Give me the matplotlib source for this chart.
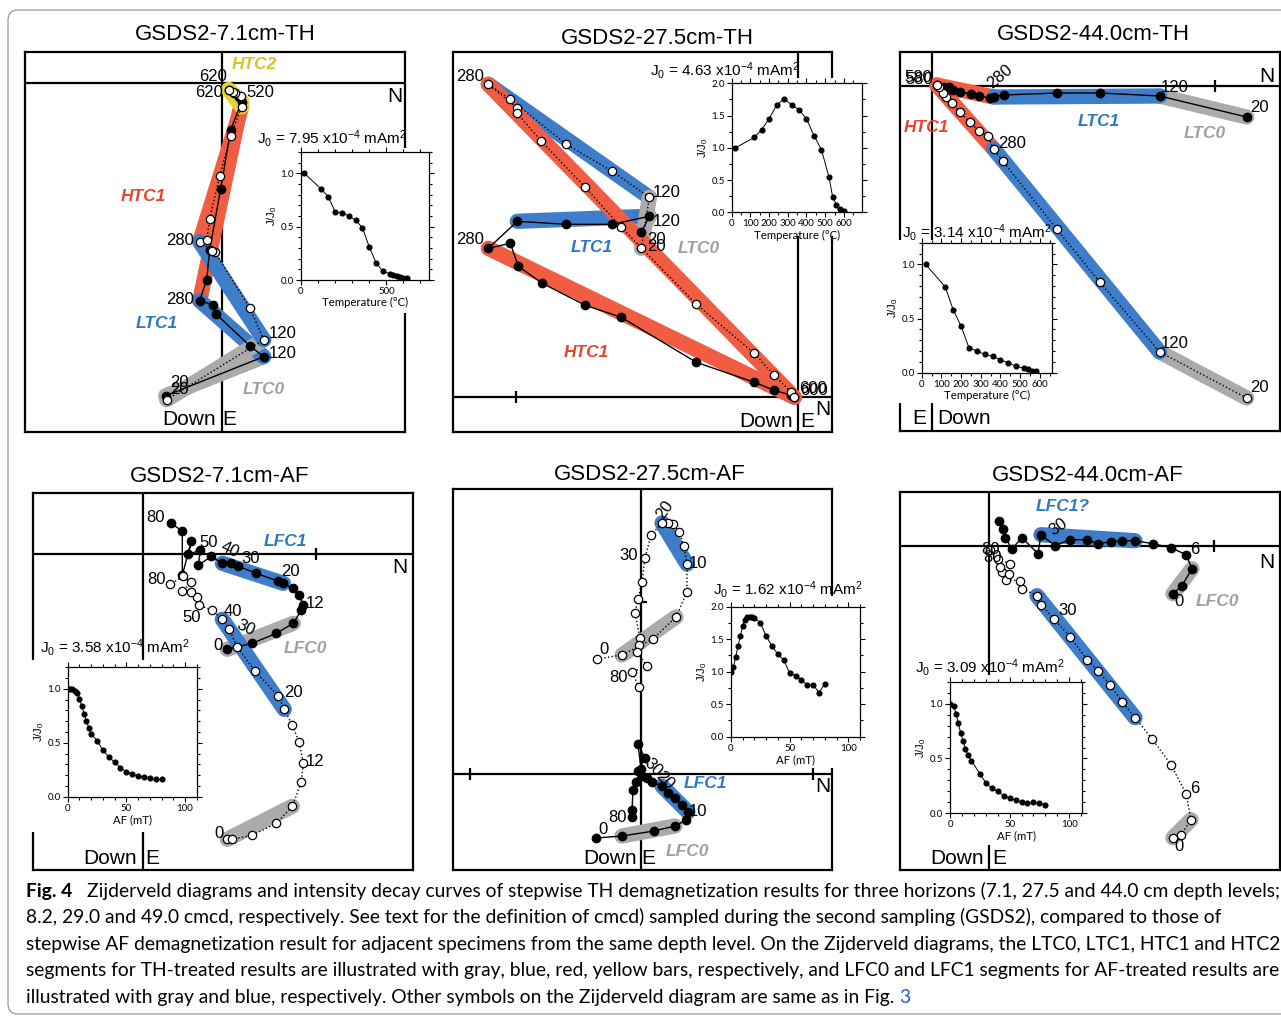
import matplotlib
matplotlib.use("Agg")
import matplotlib.pyplot as plt
from matplotlib.patches import Rectangle, FancyBboxPatch
from matplotlib.ticker import MultipleLocator, FixedLocator, FormatStrFormatter
from matplotlib.transforms import IdentityTransform

plt.rcParams['font.family'] = ['Liberation Sans', 'DejaVu Sans']
plt.rcParams['mathtext.fontset'] = 'custom'
plt.rcParams['mathtext.rm'] = 'Liberation Sans'
plt.rcParams['mathtext.it'] = 'Liberation Sans:italic'
plt.rcParams['mathtext.bf'] = 'Liberation Sans:bold'

# ---------------- data (vector end points, arbitrary units; N to the right, Down/E downwards)
# GSDS2-7.1cm-TH
th71_h = [(-56, 313), (42, 274), (28, 263), (-6, 231), (-9, 222), (-22, 218), (-15, 197),
          (-12, 167), (-1, 106), (9, 47), (20, 19), (17, 14), (12, 10), (7, 7)]
th71_v = [(-55, 317), (42, 257), (28, 225), (-7, 169), (-10, 168), (-22, 159), (-15, 157),
          (-12, 136), (-2, 93), (9, 53), (20, 24), (19, 13), (13, 10), (11, 9), (7, 7)]
th71_segs = [("LTC0", "h", 0, 1), ("HTC1", "h", 5, 10), ("LTC1", "h", 1, 5), ("HTC2", "h", 10, 13),
             ("LTC0", "v", 0, 1), ("HTC1", "v", 5, 10), ("LTC1", "v", 1, 5), ("HTC2", "v", 10, 14)]
th71_steps = [("620", -9, -6), ("620", -13, 10), ("520", 39, 10), ("280", -42, 158),
              ("280", -42, 217), ("120", 61, 251), ("120", 61, 271), ("20", -42, 300), ("20", -42, 307)]
th71_comps = [("HTC2", 33, -18), ("HTC1", -78, 114), ("LTC1", -65, 241), ("LTC0", 42, 307)]

# GSDS2-27.5cm-TH
th275_h = [(-157, -165), (-149, -181), (-186, -173), (-232, -173), (-281, -176), (-310, -149),
           (-288, -154), (-280, -131), (-256, -114), (-213, -92), (-177, -80), (-102, -35),
           (-44, -15), (-24, -7), (-7, -2), (-4, 0)]
th275_v = [(-157, -149), (-149, -200), (-186, -226), (-232, -253), (-288, -298), (-310, -313),
           (-281, -289), (-281, -284), (-257, -256), (-213, -210), (-177, -170), (-102, -93),
           (-44, -44), (-24, -22), (-7, -5), (-4, 0)]
th275_segs = [("LTC1", "h", 1, 4), ("HTC1", "h", 5, 15), ("LTC0", "h", 0, 1),
              ("LTC1", "v", 1, 5), ("LTC0", "v", 0, 1), ("HTC1", "v", 5, 15)]
th275_steps = [("280", -328, -321), ("280", -328, -158), ("120", -132, -205), ("120", -132, -176),
               ("20", -142, -158), ("20", -142, -151), ("600", 15, -9), ("600", 16, -7)]
th275_comps = [("LTC1", -207, -150), ("LTC0", -100, -149), ("HTC1", -212, -45)]

# GSDS2-44.0cm-TH
th440_h = [(315, 31), (228, 10), (168, 7), (125, 7), (72, 9), (62, 11), (58, 12), (47, 10),
           (39, 8), (28, 6), (21, 4), (17, 1), (12, 1), (5, -1)]
th440_v = [(315, 312), (228, 266), (168, 196), (125, 143), (71, 75), (62, 63), (56, 50), (47, 45),
           (38, 36), (28, 26), (20, 17), (14, 11), (11, 7), (7, 1), (5, -1)]
th440_segs = [("LTC0", "h", 0, 1), ("HTC1", "h", 5, 13), ("LTC1", "h", 1, 5),
              ("LTC0", "v", 0, 1), ("HTC1", "v", 5, 14), ("LTC1", "v", 1, 5)]
th440_steps = [("580", -13, -8), ("580", -12, -7), ("280", 68, -9, 40), ("280", 80, 58),
               ("120", 243, 1), ("20", 328, 21), ("120", 243, 257), ("20", 328, 301)]
th440_comps = [("HTC1", -5, 41), ("LTC1", 167, 35), ("LTC0", 273, 48)]

# GSDS2-7.1cm-AF
af71_h = [(84, 95), (109, 89), (133, 79), (150, 69), (158, 56), (160, 51), (156, 41), (150, 34),
          (140, 29), (135, 27), (113, 19), (95, 12), (88, 9), (79, 9), (68, 2), (55, 11), (57, -4),
          (45, 0), (48, -13), (39, 21), (39, -23), (28, -31)]
af71_v = [(84, 285), (89, 285), (109, 281), (133, 269), (149, 252), (158, 228), (160, 209),
          (156, 188), (149, 171), (141, 155), (135, 142), (112, 117), (94, 93), (86, 75), (79, 65),
          (69, 56), (56, 51), (54, 43), (48, 38), (39, 37), (48, 28), (40, 22), (27, 30)]
af71_segs = [("LFC0", "h", 0, 3), ("LFC1", "h", 8, 13), ("LFC0", "v", 0, 4), ("LFC1", "v", 9, 14)]
af71_steps = [("80", 12, -37), ("50", 65, -12), ("40", 87, -4, -25), ("30", 107, 4), ("20", 147, 17),
              ("12", 172, 49), ("80", 13, 25), ("50", 48, 63), ("40", 90, 57), ("30", 102, 74, -25),
              ("0", 75, 91), ("20", 150, 138), ("12", 172, 207), ("0", 76, 279)]
af71_comps = [("LFC1", 142, -13), ("LFC0", 162, 94)]

# GSDS2-27.5cm-AF
af275_h = [(-45, 64), (-19, 62), (13, 57), (34, 52), (45, 46), (47, 38), (41, 31), (34, 24),
           (27, 19), (21, 12), (11, 8), (6, 4), (1, 2), (-3, -3), (4, -16), (-3, -30), (0, -5),
           (-5, 8), (-8, 16), (-9, 36), (-9, 43)]
af275_v = [(-44, -115), (-19, -119), (12, -135), (35, -157), (46, -182), (46, -210), (43, -228),
           (38, -242), (32, -250), (27, -251), (21, -251), (10, -239), (4, -216), (1, -192),
           (-3, -175), (-6, -161), (-1, -136), (-2, -129), (-4, -122), (6, -108), (-9, -102), (-2, -87)]
af275_segs = [("LFC0", "h", 1, 3), ("LFC1", "h", 5, 9), ("LFC0", "v", 1, 3), ("LFC1", "v", 5, 10)]
af275_steps = [("20", 24, -264, 55), ("10", 57, -211), ("30", -12, -219), ("0", -37, -125),
               ("80", -23, -96), ("30", 12, -7, -45), ("20", 24, 6, -45), ("10", 57, 38),
               ("80", -24, 43), ("0", -38, 56)]
af275_comps = [("LFC1", 64, 9), ("LFC0", 46, 78)]

# GSDS2-44.0cm-AF
af440_h = [(184, 48), (193, 40), (203, 23), (197, 9), (182, 2), (164, -2), (146, -5), (133, -5),
           (122, -4), (109, -2), (98, -6), (81, -6), (66, 0), (52, -11), (49, 8), (33, -8), (23, 3),
           (16, -8), (14, -17), (10, -25)]
af440_v = [(184, 292), (192, 289), (202, 274), (197, 248), (182, 219), (163, 193), (146, 172),
           (133, 156), (121, 139), (109, 125), (98, 114), (81, 91), (65, 73), (52, 59), (48, 50),
           (33, 43), (31, 35), (17, 34), (13, 26), (20, 28), (11, 21), (21, 18), (9, 13), (1, 4)]
af440_segs = [("LFC0", "h", 0, 2), ("LFC1", "h", 6, 13), ("LFC0", "v", 0, 2), ("LFC1", "v", 6, 14)]
af440_steps = [("30", 69, -19, 35), ("6", 206, 4), ("0", 190, 56), ("30", 79, 65), ("6", 206, 243),
               ("0", 190, 301), ("80", 2, 4), ("80", 3, 12)]
af440_comps = [("LFC1?", 74, -39), ("LFC0", 228, 56)]

# intensity decay curves
th71_T = [20, 120, 160, 200, 240, 280, 320, 360, 400, 440, 480, 520, 540, 560, 580, 600, 620]
th71_J = [1.0, 0.85, 0.78, 0.64, 0.63, 0.60, 0.56, 0.49, 0.31, 0.16, 0.08, 0.06, 0.05, 0.04, 0.03, 0.02, 0.02]
th275_T = [20, 120, 160, 200, 240, 280, 320, 360, 400, 440, 480, 520, 540, 560, 580, 600]
th275_J = [1.0, 1.16, 1.28, 1.45, 1.66, 1.76, 1.67, 1.59, 1.45, 1.19, 0.97, 0.55, 0.24, 0.12, 0.05, 0.02]
th440_T = [20, 120, 160, 200, 240, 280, 320, 360, 400, 440, 480, 520, 540, 560, 580]
th440_J = [1.0, 0.79, 0.58, 0.43, 0.23, 0.20, 0.17, 0.15, 0.12, 0.09, 0.06, 0.04, 0.03, 0.02, 0.02]
af_steps = [0, 2, 4, 6, 8, 10, 12, 14, 16, 18, 20, 25, 30, 35, 40, 45, 50, 55, 60, 65, 70, 75, 80]
af71_J = [1.0, 1.0, 1.0, 0.98, 0.96, 0.91, 0.84, 0.77, 0.70, 0.64, 0.58, 0.52, 0.43, 0.37, 0.32,
          0.27, 0.23, 0.21, 0.19, 0.18, 0.17, 0.16, 0.16]
af275_J = [1.0, 1.07, 1.23, 1.40, 1.55, 1.71, 1.80, 1.84, 1.84, 1.84, 1.83, 1.75, 1.55, 1.39, 1.27,
           1.18, 0.98, 0.94, 0.88, 0.79, 0.80, 0.68, 0.81]
af440_AF = [0, 3, 5, 7, 9, 11, 13, 15, 18, 25, 30, 35, 40, 45, 50, 55, 60, 65, 70, 75, 80]
af440_J = [1.0, 0.98, 0.91, 0.82, 0.73, 0.66, 0.59, 0.53, 0.48, 0.36, 0.28, 0.23, 0.20, 0.16, 0.14,
           0.12, 0.10, 0.09, 0.10, 0.09, 0.08]

j0_values = ["7.95", "4.63", "3.14", "3.58", "1.62", "3.09"]

cap_lines = [
    "Zijderveld diagrams and intensity decay curves of stepwise TH demagnetization results for three horizons (7.1, 27.5 and 44.0 cm depth levels;",
    "8.2, 29.0 and 49.0 cmcd, respectively. See text for the definition of cmcd) sampled during the second sampling (GSDS2), compared to those of",
    "stepwise AF demagnetization result for adjacent specimens from the same depth level. On the Zijderveld diagrams, the LTC0, LTC1, HTC1 and HTC2",
    "segments for TH-treated results are illustrated with gray, blue, red, yellow bars, respectively, and LFC0 and LFC1 segments for AF-treated results are",
    "illustrated with gray and blue, respectively. Other symbols on the Zijderveld diagram are same as in Fig.",
]

# ---------------- style
bar_color = {"LTC0": "#ABABAB", "LFC0": "#ABABAB", "LTC1": "#3D7DC9", "LFC1": "#3D7DC9",
             "HTC1": "#F05D42", "HTC2": "#E8D530"}
text_color = {"LTC0": "#A0A0A0", "LFC0": "#A0A0A0", "LTC1": "#2F79C4", "LFC1": "#2F79C4",
              "HTC1": "#E8442E", "HTC2": "#D8C422"}

W, H = 1281, 1016
fig = plt.figure(figsize=(W / 100, H / 100), dpi=100)


def fbox(l, t, r, b):
    return [l / W, 1 - b / H, (r - l) / W, (b - t) / H]


def zijderveld(frame, origin, hor, ver, segs, steps, comps, ticks=()):
    l, t, r, b = frame
    ox, oy = origin
    ax = fig.add_axes(fbox(l, t, r, b))
    ax.set_xlim(l - ox, r - ox)
    ax.set_ylim(b - oy, t - oy)
    ax.set_xticks([])
    ax.set_yticks([])
    for sp in ax.spines.values():
        sp.set_linewidth(1.6)
    ax.axhline(0, color="k", lw=1.6, zorder=1)
    ax.axvline(0, color="k", lw=1.6, zorder=1)
    for xt, yt, m in ticks:
        ax.plot(xt, yt, marker=m, ms=9, mew=1.6, color="k", zorder=1)
    for comp, proj, i, j in segs:
        pts = hor if proj == "h" else ver
        ax.plot([pts[i][0], pts[j][0]], [pts[i][1], pts[j][1]], color=bar_color[comp],
                lw=11, solid_capstyle="round", zorder=2)
    ax.plot([p[0] for p in hor], [p[1] for p in hor], "-", color="k", lw=1.0,
            marker="o", ms=6, mfc="k", mec="k", zorder=3)
    ax.plot([p[0] for p in ver], [p[1] for p in ver], ":", color="k", lw=1.0,
            marker="o", ms=6, mfc="white", mec="k", mew=0.9, zorder=4)
    for st in steps:
        rot = st[3] if len(st) > 3 else 0
        ax.text(st[1], st[2], st[0], fontsize=12, ha="center", va="center", rotation=rot, zorder=6)
    for name, x, y in comps:
        key = name.rstrip("?")
        ax.text(x, y, name, fontsize=12.5, color=text_color[key], fontweight="bold",
                style="italic", ha="center", va="center", zorder=6)
    return ax


def dir_labels(ax, items):
    for s, x, y in items:
        ax.text(x, y, s, fontsize=15, ha="center", va="center", zorder=6)


def decay(box, x, y, xlim, ylim, xmaj, xmin, ymaj, ymin, xlabel):
    ax = fig.add_axes(fbox(*box), zorder=3)
    ax.plot(x, y, "-o", color="k", lw=0.7, ms=3.4)
    ax.set_xlim(*xlim)
    ax.set_ylim(*ylim)
    ax.xaxis.set_major_locator(FixedLocator(xmaj))
    ax.xaxis.set_minor_locator(MultipleLocator(xmin))
    ax.yaxis.set_major_locator(FixedLocator(ymaj))
    ax.yaxis.set_minor_locator(MultipleLocator(ymin))
    ax.yaxis.set_major_formatter(FormatStrFormatter("%.1f"))
    ax.tick_params(which="both", direction="out", top=True, right=True, labelsize=7,
                   width=0.8, length=3.5, pad=1.5, colors="k")
    ax.tick_params(which="minor", length=2.2)
    for lab in ax.get_xticklabels() + ax.get_yticklabels():
        lab.set_family("Lato")
    for sp in ax.spines.values():
        sp.set_linewidth(0.9)
    ax.set_xlabel(xlabel, fontsize=8.2, labelpad=1, family="Lato")
    ax.set_ylabel("J/J$_0$", fontsize=8.2, labelpad=1)
    return ax


def white_box(l, t, r, b):
    fig.add_artist(Rectangle((l / W, 1 - b / H), (r - l) / W, (b - t) / H,
                             transform=fig.transFigure, fc="white", ec="none", zorder=1))


# ---------------- Zijderveld panels
ax1 = zijderveld((25, 52, 405, 432), (221.7, 82.7), th71_h, th71_v, th71_segs, th71_steps,
                 th71_comps, ticks=[(0, 281, "_")])
dir_labels(ax1, [("N", 173, 14), ("Down", -33, 337), ("E", 8, 337)])

ax2 = zijderveld((452.7, 52.3, 831.7, 431.7), (798.3, 397.3), th275_h, th275_v, th275_segs,
                 th275_steps, th275_comps, ticks=[(-282, 0, "|")])
dir_labels(ax2, [("N", 25, 12), ("Down", -32, 24), ("E", 9, 24)])

ax3 = zijderveld((900, 52.3, 1279.5, 431), (931.7, 86), th440_h, th440_v, th440_segs,
                 th440_steps, th440_comps, ticks=[(283, 0, "|")])
dir_labels(ax3, [("N", 335, -9), ("E", -12, 332), ("Down", 32, 332)])

ax4 = zijderveld((33.3, 492.7, 412.7, 870), (143.3, 554.3), af71_h, af71_v, af71_segs,
                 af71_steps, af71_comps, ticks=[(173, 0, "|")])
dir_labels(ax4, [("N", 257, 13), ("Down", -33, 304), ("E", 9, 304)])

ax5 = zijderveld((452.7, 489.3, 831.7, 870), (641, 774), af275_h, af275_v, af275_segs,
                 af275_steps, af275_comps, ticks=[(-171, 0, "|"), (172, 0, "|"), (0, -172, "_")])
dir_labels(ax5, [("N", 182, 13), ("Down", -31, 84), ("E", 7, 84)])

ax6 = zijderveld((900, 491.7, 1279.5, 870), (989, 545.7), af440_h, af440_v, af440_segs,
                 af440_steps, af440_comps, ticks=[(225, 0, "|")])
dir_labels(ax6, [("N", 278, 17), ("Down", -32, 313), ("E", 10, 313)])

# white panels behind the decay insets
white_box(280, 148, 432, 313)
white_box(700, 78, 866, 236)
white_box(895, 240, 1054, 403)
white_box(28, 660, 200, 832)
white_box(705, 596, 866, 768)
white_box(940, 675, 1090, 845)

# ---------------- decay insets
temp = "Temperature (\u00b0C)"
decay((301, 152, 429, 280), th71_T, th71_J, (0, 750), (0, 1.2), [0, 500], 100,
      [0, 0.5, 1.0], 0.1, temp)
decay((731.7, 83.3, 862, 212.3), th275_T, th275_J, (0, 697), (0, 2.0), range(0, 700, 100), 50,
      [0, 0.5, 1.0, 1.5, 2.0], 0.25, temp)
decay((921.7, 242.7, 1051.7, 372.7), th440_T, th440_J, (0, 660), (0, 1.2), range(0, 700, 100), 50,
      [0, 0.5, 1.0], 0.1, temp)
decay((67.7, 667.3, 196.7, 796.7), af_steps, af71_J, (0, 110), (0, 1.2), [0, 50, 100], 10,
      [0, 0.5, 1.0], 0.1, "AF (mT)")
decay((731, 606.7, 860, 736.7), af_steps, af275_J, (0, 110), (0, 2.0), [0, 50, 100], 10,
      [0, 0.5, 1.0, 1.5, 2.0], 0.25, "AF (mT)")
decay((950, 681.7, 1082.3, 813.3), af440_AF, af440_J, (0, 111), (0, 1.2), [0, 50, 100], 10,
      [0, 0.5, 1.0], 0.1, "AF (mT)")

j0_pos = [(257, 138), (650, 70), (902, 232), (40, 648), (713, 590), (915, 667)]
for v, (x, y) in zip(j0_values, j0_pos):
    fig.text(x / W, 1 - y / H, "J$_0$ = " + v + " x10$^{-4}$ mAm$^2$", fontsize=11,
             ha="left", va="center", zorder=4)

# ---------------- titles
titles = [("GSDS2-7.1cm-TH", 225, 35), ("GSDS2-27.5cm-TH", 657, 38), ("GSDS2-44.0cm-TH", 1093, 35),
          ("GSDS2-7.1cm-AF", 220, 477), ("GSDS2-27.5cm-AF", 650, 474), ("GSDS2-44.0cm-AF", 1088, 475)]
for s, x, y in titles:
    fig.text(x / W, 1 - y / H, s, fontsize=16, ha="center", va="center")

# ---------------- card border
fig.add_artist(FancyBboxPatch((8, 2), 1290, 1004, boxstyle="round,pad=0,rounding_size=10",
                              transform=IdentityTransform(), fill=False, ec="#8c8c8c", lw=0.8))

# ---------------- caption, fitted to the original line width
cap_font = "Lato"
renderer = fig.canvas.get_renderer()


def width_of(s, size, weight="normal"):
    t = fig.text(0, 0, s, fontsize=size, fontweight=weight, family=cap_font)
    w = t.get_window_extent(renderer=renderer).width
    t.remove()
    return w


size = 12 * (1275 - 87) / width_of(cap_lines[0], 12)
base = [897, 923, 950, 976, 1003]
fig.text(26 / W, 1 - base[0] / H, "Fig. 4", fontsize=size, fontweight="bold", family=cap_font,
         va="baseline")
fig.text(87 / W, 1 - base[0] / H, cap_lines[0], fontsize=size, family=cap_font, va="baseline")
for s, y in zip(cap_lines[1:], base[1:]):
    fig.text(26 / W, 1 - y / H, s, fontsize=size, family=cap_font, va="baseline")
gap = width_of("a a", size) - width_of("aa", size)
x3 = 26 + width_of(cap_lines[4], size) + gap
fig.text(x3 / W, 1 - base[4] / H, "3", fontsize=size, family=cap_font, color="#2a5bd7",
         va="baseline")

fig.savefig("out.png", dpi=100)
